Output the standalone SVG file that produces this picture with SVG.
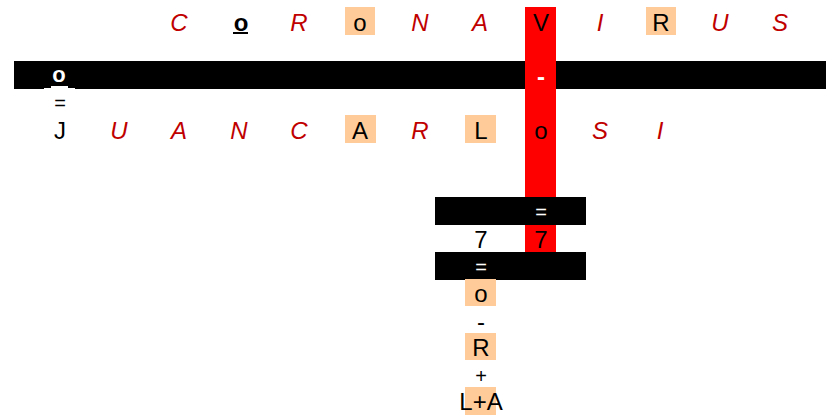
<svg xmlns="http://www.w3.org/2000/svg" width="836" height="419" viewBox="0 0 836 419">
<style>
text{font-family:"Liberation Sans",Arial,sans-serif;text-anchor:middle}
.r{fill:#C00000;font-style:italic;font-size:24px}
.k{fill:#000;font-size:24px}
.w{fill:#fff}
.box{fill:#FFCC99}
.bar{fill:#000}
.red{fill:#FF0000}
.s{font-size:20px}
</style>
<rect width="836" height="419" fill="#fff"/>
<g id="bar1"><rect class="bar" x="14" y="61" width="812" height="28"/></g>
<g id="redcol"><rect class="red" x="525" y="7" width="31" height="245"/></g>
<g id="bar2"><rect class="bar" x="435" y="197" width="151" height="28"/></g>
<g id="bar3"><rect class="bar" x="435" y="252" width="151" height="28"/></g>
<g id="top-row">
<g id="t1"><text class="r" x="179" y="31">C</text></g>
<g id="t2"><text class="k" x="241" y="31" font-weight="bold">o</text><rect x="233" y="32" width="15" height="2" fill="#000"/></g>
<g id="t3"><text class="r" x="299" y="31">R</text></g>
<g id="t4"><rect class="box" x="345" y="7" width="30" height="28"/><text class="k" x="360" y="31">o</text></g>
<g id="t5"><text class="r" x="420" y="31">N</text></g>
<g id="t6"><text class="r" x="480" y="31">A</text></g>
<g id="t7"><text class="k" x="541" y="31">V</text></g>
<g id="t8"><text class="r" x="600" y="31">I</text></g>
<g id="t9"><rect class="box" x="646" y="7" width="30" height="28"/><text class="k" x="661" y="31">R</text></g>
<g id="t10"><text class="r" x="720" y="31">U</text></g>
<g id="t11"><text class="r" x="780" y="31">S</text></g>
</g>
<g id="bar-labels">
<g id="b1"><text class="w" x="59" y="82" font-size="22" font-weight="bold">o</text><rect fill="#fff" x="51" y="86" width="17" height="2"/></g>
<g id="b2"><rect fill="#fff" x="44" y="88" width="31" height="19"/><text class="k s" x="60" y="110">=</text></g>
<g id="b3"><text class="w" x="541" y="85" font-size="24" font-weight="bold">-</text></g>
</g>
<g id="bottom-row">
<g id="u1"><text class="k" x="60" y="139">J</text></g>
<g id="u2"><text class="r" x="119" y="139">U</text></g>
<g id="u3"><text class="r" x="179" y="139">A</text></g>
<g id="u4"><text class="r" x="239" y="139">N</text></g>
<g id="u5"><text class="r" x="299" y="139">C</text></g>
<g id="u6"><rect class="box" x="345" y="115" width="31" height="28"/><text class="k" x="360" y="139">A</text></g>
<g id="u7"><text class="r" x="420" y="139">R</text></g>
<g id="u8"><rect class="box" x="465" y="115" width="31" height="28"/><text class="k" x="481" y="139">L</text></g>
<g id="u9"><text class="k" x="541" y="139">o</text></g>
<g id="u10"><text class="r" x="600" y="139">S</text></g>
<g id="u11"><text class="r" x="660" y="139">I</text></g>
</g>
<g id="stack">
<g id="s1"><text class="w s" x="541" y="219">=</text></g>
<g id="s2"><text class="k" x="481" y="248">7</text></g>
<g id="s3"><text class="k" x="541" y="248">7</text></g>
<g id="s4"><text class="w s" x="481" y="274">=</text></g>
<g id="s5"><rect class="box" x="465" y="279" width="31" height="27"/><text class="k" x="481" y="302">o</text></g>
<g id="s6"><text class="k" x="481" y="330" font-size="24">-</text></g>
<g id="s7"><rect class="box" x="465" y="333" width="31" height="27"/><text class="k" x="481" y="356">R</text></g>
<g id="s8"><text class="k s" x="481" y="383">+</text></g>
<g id="s9"><rect class="box" x="465" y="387" width="31" height="28"/><text class="k" x="481" y="410">L+A</text></g>
</g>
</svg>
